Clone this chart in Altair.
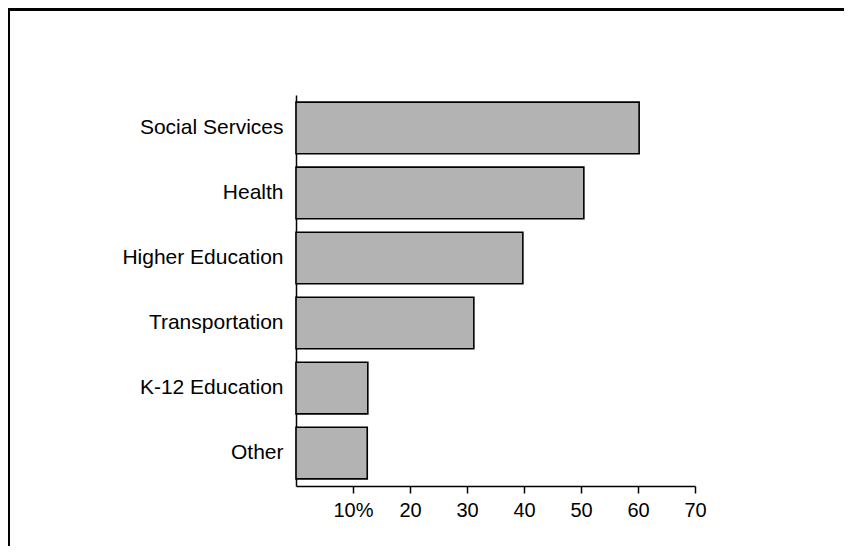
import altair as alt
import pandas as pd

categories = ["Social Services", "Health", "Higher Education", "Transportation", "K-12 Education", "Other"]
values = [60.2, 50.5, 39.8, 31.2, 12.6, 12.5]
tick_values = [10, 20, 30, 40, 50, 60, 70]

df = pd.DataFrame({"category": categories, "value": values})

FONT = "Liberation Sans"

bars = alt.Chart(df).mark_bar(
    color="#b3b3b3", stroke="black", strokeWidth=1.6
).encode(
    y=alt.Y("category:N", sort=categories,
            scale=alt.Scale(paddingInner=0.206, paddingOuter=0.11),
            axis=alt.Axis(title=None, ticks=False, labelPadding=13, labelFontSize=21,
                          labelFont=FONT, labelColor="black", domainColor="black",
                          domainWidth=1.5, labelLimit=300)),
    x=alt.X("value:Q", scale=alt.Scale(domain=[0, 70], nice=False, zero=True),
            axis=alt.Axis(title=None, values=tick_values, grid=False,
                          labelExpr="datum.value == 10 ? '10%' : datum.label",
                          tickSize=7, tickColor="black", tickWidth=1.5,
                          domainColor="black", domainWidth=1.5,
                          labelFontSize=20, labelFont=FONT, labelColor="black",
                          labelPadding=7, labelFlush=False)),
)

top_bar = alt.Chart(df).mark_rule(color="black", strokeWidth=6, clip=False).encode(
    x=alt.value(-288), x2=alt.value(548), y=alt.value(-87)
)
left_line = alt.Chart(df).mark_rule(color="black", strokeWidth=1.5, clip=False).encode(
    x=alt.value(-287.2), y=alt.value(-87), y2=alt.value(451)
)

chart = alt.layer(bars, top_bar, left_line).properties(
    width=399, height=391,
    padding={"left": 288, "top": 87, "right": 149, "bottom": 60},
    autosize=alt.AutoSizeParams(type="none"),
    background="white",
).configure_view(stroke=None)

chart.save("out.html", embed_options={"renderer": "svg", "actions": False})
